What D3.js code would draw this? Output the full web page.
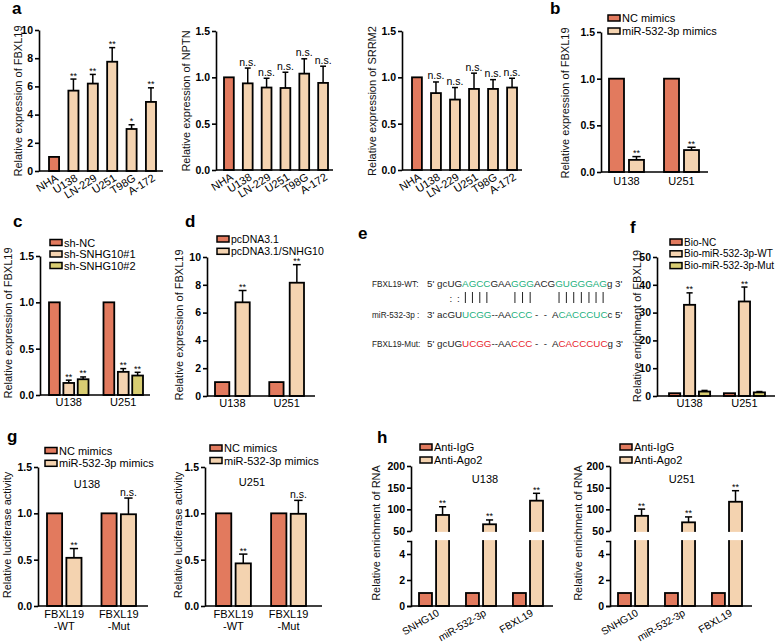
<!DOCTYPE html>
<html><head><meta charset="utf-8">
<script src="https://cdn.jsdelivr.net/npm/d3@7"></script>
<style>body{margin:0;background:#fff} svg{display:block}</style>
</head><body><svg id="fig" width="783" height="642"></svg>
<script>
// ---------- DATA ----------
const cellLines = ["NHA","U138","LN-229","U251","T98G","A-172"];
const fbxl19Expr = [1,5.7,6.2,7.75,2.98,4.9];
const fbxl19Err  = [0,0.82,0.65,1.0,0.3,1.0];
const fbxl19Sig  = ["","**","**","**","*","**"];
const nptnExpr = [1,0.935,0.89,0.885,1.04,0.94];
const nptnErr  = [0,0.165,0.10,0.17,0.16,0.18];
const srrm2Expr = [1,0.83,0.76,0.875,0.875,0.89];
const srrm2Err  = [0,0.12,0.13,0.17,0.10,0.10];
const nsSig = ["","n.s.","n.s.","n.s.","n.s.","n.s."];

const gliomaLines = ["U138","U251"];
const mimicsSeries = ["NC mimics","miR-532-3p mimics"];
const mimicsFbxl19 = [[1,1],[0.13,0.235]];
const mimicsFbxl19Err = [[0,0],[0.035,0.03]];
const mimicsSig = [["",""],["**","**"]];

const shSeries = ["sh-NC","sh-SNHG10#1","sh-SNHG10#2"];
const shFbxl19 = [[1,1],[0.13,0.25],[0.17,0.21]];
const shFbxl19Err = [[0,0],[0.03,0.035],[0.025,0.035]];
const shSig = [["",""],["**","**"],["**","**"]];

const pcSeries = ["pcDNA3.1","pcDNA3.1/SNHG10"];
const pcFbxl19 = [[1,1],[6.74,8.15]];
const pcFbxl19Err = [[0,0],[0.85,1.3]];
const pcSig = [["",""],["**","**"]];

const bioSeries = ["Bio-NC","Bio-miR-532-3p-WT","Bio-miR-532-3p-Mut"];
const bioEnrich = [[1,1],[32.8,34],[1.6,1.3]];
const bioEnrichErr = [[0,0],[4.3,5.2],[0.4,0.3]];
const bioSig = [["",""],["**","**"],["",""]];

const lucGroups = ["FBXL19|-WT","FBXL19|-Mut"];
const lucU138 = [[1,1],[0.52,0.99]];
const lucU138Err = [[0,0],[0.1,0.175]];
const lucU251 = [[1,1],[0.46,0.995]];
const lucU251Err = [[0,0],[0.1,0.145]];
const lucSig = [["",""],["**","n.s."]];

const ripGroups = ["SNHG10","miR-532-3p","FBXL19"];
const ripSeries = ["Anti-IgG","Anti-Ago2"];
const ripU138 = [[1,1,1],[87,65.5,120]];
const ripU138Err = [[0,0,0],[19,10,17]];
const ripU251 = [[1,1,1],[85,70,117.5]];
const ripU251Err = [[0,0,0],[15.5,12.5,25.5]];
const ripSig = [["","",""],["**","**","**"]];

const wtSeq  = [["5' gcUG","k"],["AGCC","g"],["GAA","k"],["GGG","g"],["ACG","k"],["GUGGGAG","g"],["g 3'","k"]];
const mirSeq = [["3' acGU","k"],["UCGG","g"],["--AA","k"],["CCC","g"],[" -  -  A","k"],["CACCCUC","g"],["c 5'","k"]];
const mutSeq = [["5' gcUG","k"],["UCGG","r"],["--AA","k"],["CCC","r"],[" -  -  A","k"],["CACCCUC","r"],["g 3'","k"]];
const pairMap = "     ::||||   |||   |||||||    ";

// ---------- STYLE ----------
const C_NC = "#e27a5e", C_BEIGE = "#f4d3b0", C_YEL = "#d8cd72";
const SEQC = {k:"#222", g:"#22b07d", r:"#e8232a"};
const FONT = "'Liberation Sans', Arial, Helvetica, sans-serif";
const svg = d3.select("#fig").attr("font-family", FONT);

function yAxis(g, scale, x, ticks, fmt, outer=0) {
  const a = g.append("g").attr("transform", `translate(${x},0)`)
    .call(d3.axisLeft(scale).tickValues(ticks).tickFormat(fmt).tickSize(4).tickSizeOuter(outer).tickPadding(2));
  a.attr("font-family", FONT).attr("font-size", 10.5).attr("font-weight", "bold");
  a.selectAll("path,line").attr("stroke", "#000").attr("stroke-width", 1.6);
  a.selectAll("text").attr("fill", "#000");
  return a;
}
function hLine(g, x1, x2, y) {
  g.append("line").attr("x1",x1).attr("x2",x2).attr("y1",y).attr("y2",y)
   .attr("stroke","#000").attr("stroke-width",1.6);
}
function yTitle(g, text, x, y) {
  g.append("text").attr("transform",`translate(${x},${y}) rotate(-90)`)
   .attr("text-anchor","middle").attr("dominant-baseline","central")
   .attr("font-size",11).attr("fill","#111").text(text);
}
function letter(t, x, y) {
  svg.append("text").attr("x",x).attr("y",y).attr("font-size",17).attr("font-weight","bold").text(t);
}
function legend(g, items, colors, x, y, dy, fs=11) {
  items.forEach((t,i)=>{
    g.append("rect").attr("x",x).attr("y",y+i*dy-3).attr("width",12).attr("height",6)
     .attr("fill",colors[i]).attr("stroke","#000").attr("stroke-width",1.5);
    g.append("text").attr("x",x+14).attr("y",y+i*dy).attr("dominant-baseline","central")
     .attr("font-size",fs).text(t);
  });
}
function errBar(g, cx, yv, ye, cw) {
  g.append("line").attr("x1",cx).attr("x2",cx).attr("y1",yv).attr("y2",ye).attr("stroke","#000").attr("stroke-width",1.5);
  g.append("line").attr("x1",cx-cw/2).attr("x2",cx+cw/2).attr("y1",ye).attr("y2",ye).attr("stroke","#000").attr("stroke-width",1.5);
}
function sigText(g, t, cx, ye) {
  if (!t) return;
  const ns = t === "n.s.";
  g.append("text").attr("x",cx).attr("y",ye-(ns?2.5:0.5)).attr("text-anchor","middle")
   .attr("font-size",ns?10.5:9).text(t);
}

function simplePanel(p) {
  const g = svg.append("g");
  const y = d3.scaleLinear().domain([0,p.ymax]).range([p.y0,p.yTop]);
  const x = d3.scaleBand().domain(p.cats).range(p.band).paddingInner(p.pad).paddingOuter(0);
  const bw = x.bandwidth();
  g.selectAll("rect.bar").data(p.cats).join("rect").attr("class","bar")
   .attr("x",d=>x(d)).attr("y",(d,i)=>y(p.vals[i])).attr("width",bw)
   .attr("height",(d,i)=>p.y0-y(p.vals[i]))
   .attr("fill",(d,i)=>i===0?C_NC:C_BEIGE).attr("stroke","#000").attr("stroke-width",1.8);
  p.cats.forEach((c,i)=>{
    const cx = x(c)+bw/2;
    if (p.errs[i]>0) errBar(g, cx, y(p.vals[i]), y(p.vals[i]+p.errs[i]), bw*0.6);
    sigText(g, p.sigs[i], cx, y(p.vals[i]+p.errs[i]));
  });
  yAxis(g, y, p.axisX, p.ticks, p.fmt);
  hLine(g, p.axisX, p.axisEnd, p.y0);
  g.selectAll("text.xl").data(p.cats).join("text").attr("class","xl")
   .attr("transform",d=>`translate(${x(d)+bw/2+5},${p.y0+9}) rotate(-32)`)
   .attr("text-anchor","end").attr("font-size",11).text(d=>d);
  yTitle(g, p.ylabel, p.ylx, p.yly);
}

function groupedPanel(p) {
  const g = svg.append("g");
  const y = d3.scaleLinear().domain([0,p.ymax]).range([p.y0,p.yTop]);
  const gx = d3.scaleBand().domain(p.groups).range(p.band).paddingInner(p.gpad).paddingOuter(0);
  const sx = d3.scaleBand().domain(p.series.map((s,i)=>i)).range([0,gx.bandwidth()]).paddingInner(p.ipad).paddingOuter(0);
  const bw = sx.bandwidth();
  p.series.forEach((s,si)=>{
    p.groups.forEach((gr,gi)=>{
      const v = p.vals[si][gi], e = p.errs[si][gi];
      const bx = gx(gr)+sx(si);
      g.append("rect").attr("x",bx).attr("y",y(v)).attr("width",bw).attr("height",p.y0-y(v))
       .attr("fill",p.colors[si]).attr("stroke","#000").attr("stroke-width",1.8);
      if (e>0) errBar(g, bx+bw/2, y(v), y(v+e), bw*0.55);
      sigText(g, p.sigs[si][gi], bx+bw/2, y(v+e));
    });
  });
  yAxis(g, y, p.axisX, p.ticks, p.fmt);
  hLine(g, p.axisX, p.axisEnd, p.y0);
  p.groups.forEach(gr=>{
    const lines = gr.split("|");
    lines.forEach((ln,li)=>{
      g.append("text").attr("x",gx(gr)+gx.bandwidth()/2).attr("y",p.xly+li*12)
       .attr("text-anchor","middle").attr("font-size",11).text(ln);
    });
  });
  legend(g, p.series, p.colors, p.lx, p.ly, p.ldy, p.lfs||11);
  if (p.sub) g.append("text").attr("x",p.sub[1]).attr("y",p.sub[2]).attr("text-anchor","middle").attr("font-size",11).text(p.sub[0]);
  yTitle(g, p.ylabel, p.ylx, p.yly);
}

function brokenPanel(p) {
  const g = svg.append("g");
  const y0 = 606, gapTop = 531, gapBot = 541;
  const lower = d3.scaleLinear().domain([0,5]).range([y0,gapBot]);
  const upper = d3.scaleLinear().domain([50,200]).range([gapTop,466]);
  const y = v => v<=5 ? lower(v) : upper(v);
  const gx = d3.scaleBand().domain(p.groups).range(p.band).paddingInner(0.36).paddingOuter(0);
  const sx = d3.scaleBand().domain(p.series.map((s,i)=>i)).range([0,gx.bandwidth()]).paddingInner(0.24).paddingOuter(0);
  const bw = sx.bandwidth();
  const colors = [C_NC, C_BEIGE];
  p.series.forEach((s,si)=>{
    p.groups.forEach((gr,gi)=>{
      const v = p.vals[si][gi], e = p.errs[si][gi];
      const bx = gx(gr)+sx(si);
      g.append("rect").attr("x",bx).attr("y",y(v)).attr("width",bw).attr("height",y0-y(v))
       .attr("fill",colors[si]).attr("stroke","#000").attr("stroke-width",1.8);
      if (v>5) g.append("rect").attr("x",bx-2).attr("y",gapTop+0.9).attr("width",bw+4).attr("height",gapBot-gapTop-1.8).attr("fill","#fff");
      if (e>0) errBar(g, bx+bw/2, y(v), y(v+e), bw*0.55);
      sigText(g, p.sigs[si][gi], bx+bw/2, y(v+e));
    });
  });
  yAxis(g, upper, p.axisX, [50,100,150,200], d3.format("d"));
  yAxis(g, lower, p.axisX, [0,2,4], d3.format("d"), 4);
  hLine(g, p.axisX, p.axisEnd, y0);
  p.groups.forEach(gr=>{
    g.append("text").attr("transform",`translate(${gx(gr)+gx.bandwidth()/2+6},${y0+9}) rotate(-30)`)
     .attr("text-anchor","end").attr("font-size",10.2).text(gr);
  });
  legend(g, p.series, colors, p.lx, 447, 13);
  g.append("text").attr("x",p.sub[1]).attr("y",483).attr("text-anchor","middle").attr("font-size",11).text(p.sub[0]);
  yTitle(g, "Relative enrichment of RNA", p.ylx, 533);
}

// ---------- PANEL a ----------
const f1 = d3.format(".1f"), fd = d3.format("d");
simplePanel({cats:cellLines, vals:fbxl19Expr, errs:fbxl19Err, sigs:fbxl19Sig, axisX:39, axisEnd:163, y0:171, yTop:30, ymax:10,
  ticks:[0,2,4,6,8,10], fmt:fd, band:[49,156], pad:0.48, ylabel:"Relative expression of FBXL19", ylx:18, yly:101});
simplePanel({cats:cellLines, vals:nptnExpr, errs:nptnErr, sigs:nsSig, axisX:216, axisEnd:333, y0:170, yTop:31, ymax:1.5,
  ticks:[0,0.5,1,1.5], fmt:f1, band:[224,328], pad:0.48, ylabel:"Relative expression of NPTN", ylx:186, yly:101});
simplePanel({cats:cellLines, vals:srrm2Expr, errs:srrm2Err, sigs:nsSig, axisX:402, axisEnd:522, y0:170, yTop:31, ymax:1.5,
  ticks:[0,0.5,1,1.5], fmt:f1, band:[412,517], pad:0.48, ylabel:"Relative expression of SRRM2", ylx:372, yly:101});

// ---------- PANEL b ----------
groupedPanel({groups:gliomaLines, series:mimicsSeries, vals:mimicsFbxl19, errs:mimicsFbxl19Err, sigs:mimicsSig, colors:[C_NC,C_BEIGE],
  axisX:601, axisEnd:708, y0:172, yTop:32, ymax:1.5, ticks:[0,0.5,1,1.5], fmt:f1, band:[609,699], gpad:0.364, ipad:0.25,
  xly:185, lx:608, ly:18, ldy:13, ylabel:"Relative expression of FBXL19", ylx:565, yly:103});

// ---------- PANEL c ----------
groupedPanel({groups:gliomaLines, series:shSeries, vals:shFbxl19, errs:shFbxl19Err, sigs:shSig, colors:[C_NC,C_BEIGE,C_YEL],
  axisX:40, axisEnd:150, y0:395, yTop:256, ymax:1.5, ticks:[0,0.5,1,1.5], fmt:f1, band:[49,143], gpad:0.275, ipad:0.25,
  xly:406, lx:50, ly:242.5, ldy:11.5, ylabel:"Relative expression of FBXL19", ylx:8, yly:323});

// ---------- PANEL d ----------
groupedPanel({groups:gliomaLines, series:pcSeries, vals:pcFbxl19, errs:pcFbxl19Err, sigs:pcSig, colors:[C_NC,C_BEIGE],
  axisX:207, axisEnd:315, y0:396, yTop:257, ymax:10, ticks:[0,2,4,6,8,10], fmt:fd, band:[215,304], gpad:0.36, ipad:0.3,
  xly:407, lx:217, ly:239, ldy:12.3, lfs:10.5, ylabel:"Relative expression of FBXL19", ylx:179, yly:325});

// ---------- PANEL f ----------
groupedPanel({groups:gliomaLines, series:bioSeries, vals:bioEnrich, errs:bioEnrichErr, sigs:bioSig, colors:[C_NC,C_BEIGE,C_YEL],
  axisX:657, axisEnd:775, y0:396, yTop:257, ymax:50, ticks:[0,10,20,30,40,50], fmt:fd, band:[669,765], gpad:0.25, ipad:0.25,
  xly:407, lx:670, ly:242, ldy:11.8, lfs:10, ylabel:"Relative enrichment of FBXL19", ylx:637, yly:326});

// ---------- PANEL g ----------
groupedPanel({groups:lucGroups, series:mimicsSeries, vals:lucU138, errs:lucU138Err, sigs:lucSig, colors:[C_NC,C_BEIGE],
  axisX:38, axisEnd:148, y0:606, yTop:467, ymax:1.5, ticks:[0,0.5,1,1.5], fmt:f1, band:[47,136], gpad:0.367, ipad:0.22,
  xly:618, lx:45, ly:450.5, ldy:12.8, sub:["U138",87,488], ylabel:"Relative luciferase activity", ylx:7, yly:535});
groupedPanel({groups:lucGroups, series:mimicsSeries, vals:lucU251, errs:lucU251Err, sigs:lucSig, colors:[C_NC,C_BEIGE],
  axisX:205, axisEnd:322, y0:606, yTop:467, ymax:1.5, ticks:[0,0.5,1,1.5], fmt:f1, band:[216,306], gpad:0.367, ipad:0.22,
  xly:618, lx:210, ly:448, ldy:12.5, sub:["U251",252,486], ylabel:"Relative luciferase activity", ylx:178, yly:535});

// ---------- PANEL h ----------
brokenPanel({groups:ripGroups, series:ripSeries, vals:ripU138, errs:ripU138Err, sigs:ripSig, axisX:411, axisEnd:553, band:[419,543], lx:420, sub:["U138",485], ylx:376});
brokenPanel({groups:ripGroups, series:ripSeries, vals:ripU251, errs:ripU251Err, sigs:ripSig, axisX:610, axisEnd:752, band:[618,742], lx:620, sub:["U251",682], ylx:578});

// ---------- PANEL e ----------
(function(){
  const g = svg.append("g");
  const sx = 427, fs = 9.8;
  function seqLine(segs, yb) {
    const t = g.append("text").attr("x",sx).attr("y",yb).attr("font-size",fs)
      .attr("xml:space","preserve").style("white-space","pre");
    segs.forEach(s=>t.append("tspan").attr("fill",SEQC[s[1]]).text(s[0]));
    return t;
  }
  const labels = [["FBXL19-WT:",287],["miR-532-3p :",318],["FBXL19-Mut:",347]];
  labels.forEach(l=>g.append("text").attr("x",372).attr("y",l[1]).attr("font-size",8.2)
     .attr("xml:space","preserve").style("white-space","pre").attr("fill","#222").text(l[0]));
  const wt = seqLine(wtSeq, 287);
  seqLine(mirSeq, 318);
  seqLine(mutSeq, 347);
  const node = wt.node();
  for (let i=0;i<pairMap.length;i++){
    const ch = pairMap[i];
    if (ch===" ") continue;
    const a = node.getStartPositionOfChar(i).x, b = node.getEndPositionOfChar(i).x, cx=(a+b)/2;
    if (ch==="|") g.append("line").attr("x1",cx).attr("x2",cx).attr("y1",292).attr("y2",303).attr("stroke","#222").attr("stroke-width",1);
    else g.append("text").attr("x",cx).attr("y",302).attr("text-anchor","middle").attr("font-size",fs).attr("fill","#222").text(":");
  }
})();

// ---------- LETTERS ----------
letter("a",12,14); letter("b",550,14); letter("c",13,227); letter("d",185,227);
letter("e",358,239); letter("f",630,233); letter("g",7,442); letter("h",377,443);
</script></body></html>
